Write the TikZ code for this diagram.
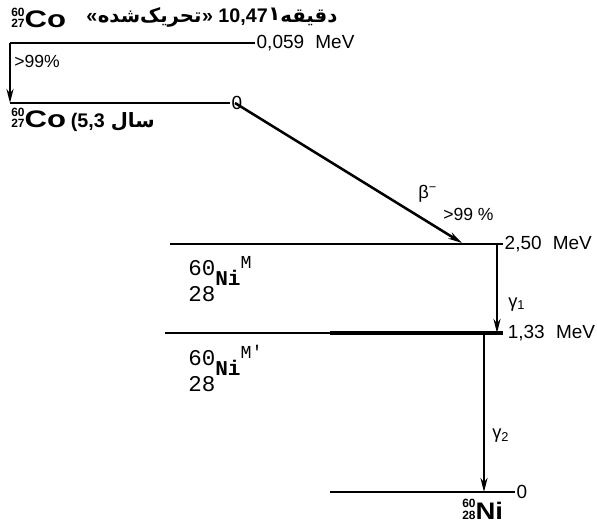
\documentclass[tikz,border=0pt]{standalone}
\usepackage{fontspec}
\setmainfont{Liberation Sans}
\newfontfamily\arabicfont[Script=Arabic]{DejaVu Sans}
\newfontfamily\crfont{Liberation Mono}
\TeXXeTstate=1
\usetikzlibrary{positioning,arrows.meta}
\newcommand{\nucl}[4][1.3]{{\bfseries\fontsize{8.5}{8.5}\selectfont\rlap{\raisebox{8.5pt}{#2}}#3}\scalebox{#1}[1]{\bfseries #4}}
\newcommand{\nilev}[1]{{\crfont\fontsize{16}{16}\selectfont\begin{tabular}[b]{@{}l@{}}60\\[2pt]28\end{tabular}\raisebox{11pt}{\bfseries\fontsize{15}{15}\selectfont Ni}\raisebox{23pt}{\fontsize{13}{13}\selectfont #1}}}
\newcommand{\fa}[1]{{\arabicfont\bfseries\beginR #1\endR}}
\tikzset{
  lvl/.style={line width=1.4pt},
  thicklvl/.style={line width=2.6pt},
  decay/.style={line width=1.8pt,-{Stealth[length=10pt,width=5pt]}},
  elab/.style={font=\fontsize{13.5}{15}\selectfont, anchor=west, inner sep=1pt},
  plab/.style={font=\fontsize{12.5}{14}\selectfont, anchor=base west, inner sep=0pt},
  glab/.style={font=\fontsize{13}{15}\selectfont, anchor=base west, inner sep=0pt},
  falab/.style={font=\fontsize{14}{16}\selectfont\bfseries, anchor=base west, inner sep=0pt},
  nuc/.style={font=\fontsize{17}{17}\selectfont, anchor=base west, inner sep=0pt},
}
\newcommand{\mev}{\hspace{8pt}MeV}
\begin{document}
\begin{tikzpicture}[x=0.025cm,y=-0.025cm]
  \useasboundingbox (0,0) rectangle (597,525);
  % ------------------------------------------------------------ 60Co metastable
  \node[nuc] (com) at (11,28) {\nucl{60}{27}{Co}};
  \node[falab] (qa) at (86,23) {«};
  \node[falab] (wa) at (qa.base east) {\fa{تحریک‌شده}};
  \node[falab] (qb) at (wa.base east) {»\ 10,47};
  \node[falab] (wb) at (qb.base east) {\raisebox{2pt}{\fa{۱}}\fa{دقیقه}};
  \coordinate (ma) at (10,43); \coordinate (mb) at (255,43);
  \draw[lvl] (ma) -- (mb);
  \node[elab] (em) at (mb) {0,059\mev};
  % ------------------------------------------------------------ 60Co ground
  \coordinate (ga) at (10,103); \coordinate (gb) at (230,103); \coordinate (gs) at (235,103);
  \draw[lvl] (ga) -- (gb);
  \node[elab] (eg) at (gb) {0};
  \node[nuc] (cog) at (11,128) {\nucl{60}{27}{Co}};
  \node[falab] (pc) at ([xshift=3pt]cog.base east) {(5,3};
  \node[falab] (wc) at ([xshift=4pt]pc.base east) {\fa{سال}};
  \draw[decay] (ma) -- (ga);
  \node[plab] (pit) at (14,68) {>99\%};
  % ------------------------------------------------------------ 60Ni 2.50 MeV
  \coordinate (na) at (170,244); \coordinate (nb) at (503,244); \coordinate (g0) at (497,244);
  \draw[lvl] (na) -- (nb);
  \node[elab] (en) at (nb) {2,50\mev};
  \node[anchor=base west, inner sep=0pt] (nim) at (188,301) {\nilev{M}};
  \coordinate (bt) at (462,243);
  \draw[decay] (gs) -- (bt);
  \node[glab] (beta) at (418,198) {β\textsuperscript{−}};
  \node[plab] (pb) at (443,220) {>99 \%};
  % ------------------------------------------------------------ 60Ni 1.33 MeV
  \coordinate (ka) at (165,333); \coordinate (kc) at (330,333); \coordinate (kb) at (503,333);
  \coordinate (g1) at (497,333); \coordinate (g2) at (484,333);
  \draw[lvl] (ka) -- (kc);
  \draw[thicklvl] (kc) -- (kb);
  \node[elab] (ek) at (kb) {\,1,33\mev};
  \node[anchor=base west, inner sep=0pt] (nimp) at (188,391) {\nilev{M'}};
  \draw[decay] (g0) -- (g1);
  \node[glab] (gam1) at (508,307) {γ\textsubscript{1}};
  % ------------------------------------------------------------ 60Ni ground
  \coordinate (za) at (330,492); \coordinate (zb) at (515,492); \coordinate (zg) at (484,492);
  \draw[lvl] (za) -- (zb);
  \node[elab] (ez) at (zb) {0};
  \draw[decay] (g2) -- (zg);
  \node[glab] (gam2) at (492,438) {γ\textsubscript{2}};
  \node[nuc] (nig) at (462,519) {\nucl[1.15]{60}{28}{Ni}};
\end{tikzpicture}
\end{document}
